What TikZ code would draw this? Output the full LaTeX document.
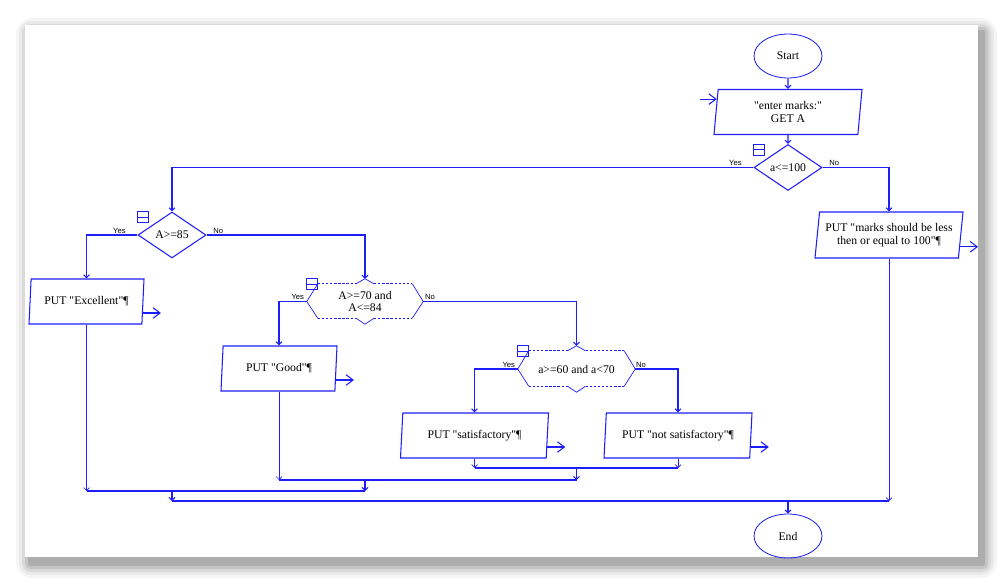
\documentclass[tikz,border=0pt]{standalone}
\usepackage{fontspec}
\setmainfont{Liberation Serif}[Ligatures=TeXOff]
\newfontfamily\yesnofont{Liberation Sans}
\usetikzlibrary{shapes.geometric, arrows.meta, calc}

\definecolor{flowblue}{RGB}{30,30,250}

\tikzset{
  flow/.style={draw=flowblue, line width=0.9pt},
  ret/.style={draw=flowblue, line width=0.6pt},
  outtip/.style={-{Straight Barb[length=6pt,width=9pt]}},
  term/.style={ellipse, draw=flowblue, line width=0.7pt, minimum width=68*0.03cm, minimum height=44*0.03cm, inner sep=0pt},
  io/.style={trapezium, trapezium left angle=80, trapezium right angle=100, trapezium stretches body,
    draw=flowblue, line width=0.9pt, minimum width=#1*0.03cm, minimum height=45*0.03cm, inner sep=1pt, align=center},
  dec/.style={diamond, draw=flowblue, line width=0.9pt, minimum width=68*0.03cm, minimum height=46*0.03cm, inner sep=0pt},
  hexdec/.style={rectangle, minimum width=116*0.03cm, minimum height=45*0.03cm, inner sep=0pt, align=center},
  lbl/.style={font=\yesnofont\fontsize{6.5}{7}\selectfont, inner sep=0.5pt}
}

\newcommand{\foldmark}[1]{%
  \draw[ret] (#1.west |- #1.north) rectangle ++(11,11);
  \draw[ret] (#1.west |- #1.north) ++(0,5.5) -- ++(11,0);}

\newcommand{\hexoutline}[1]{%
  \draw[ret] ($(#1.north west)+(11,5)$) -- (#1.west) -- ($(#1.south west)+(11,-6)$);
  \draw[ret] ($(#1.north east)+(-11,5)$) -- (#1.east) -- ($(#1.south east)+(-11,-6)$);
  \draw[ret, dash pattern=on 2pt off 1.5pt] ($(#1.north west)+(11,5)$) -- ($(#1.north)+(-9,5)$);
  \draw[ret, dash pattern=on 2pt off 1.5pt] ($(#1.north)+(9,5)$) -- ($(#1.north east)+(-11,5)$);
  \draw[ret, dash pattern=on 2pt off 1.5pt] ($(#1.south west)+(11,-6)$) -- ($(#1.south)+(-9,-6)$);
  \draw[ret, dash pattern=on 2pt off 1.5pt] ($(#1.south)+(9,-6)$) -- ($(#1.south east)+(-11,-6)$);
  \draw[ret] ($(#1.north)+(-9,5)$) -- (#1.north) -- ($(#1.north)+(9,5)$);
  \draw[ret] ($(#1.south)+(-9,-6)$) -- (#1.south) -- ($(#1.south)+(9,-6)$);}

\newcommand{\putarrow}[1]{%
  \draw[flow, outtip] ($(#1.bottom right corner)!0.25!(#1.top right corner)$) -- ++(18,0);}

\begin{document}
\begin{tikzpicture}[x=0.03cm, y=-0.03cm, >={Straight Barb[length=2.5pt,width=5pt]},
  every node/.append style={font=\fontsize{10}{11}\selectfont}]

\useasboundingbox (0,0) rectangle (1005,585);


\foreach \s/\o in {14/0.04, 11/0.05, 8/0.07, 5/0.09, 2/0.12} {
  \fill[black, opacity=\o, rounded corners=\s pt] (25-\s+5,25-\s+7) rectangle (978+\s+5,557+\s+7);
}
\fill[white] (25,25) rectangle (978,557);


\node[term] (start) at (788,56) {Start};
\node[io=148] (get) at (788,112) {"enter marks:"\\GET A};
\node[dec] (chk) at (788,167.5) {a<=100};
\node[dec] (exc) at (172,235) {A>=85};
\node[io=115] (pexc) at (86.5,301.5) {PUT "Excellent"¶};
\node[hexdec] (good) at (365,301.5) {A>=70 and\\A<=84};
\node[io=116] (pgood) at (279,368.5) {PUT "Good"¶};
\node[hexdec, minimum width=117*0.03cm, minimum height=46*0.03cm] (sat) at (576.5,369) {a>=60 and a<70};
\node[io=148] (psat) at (474.5,435.5) {PUT "satisfactory"¶};
\node[io=148] (pnot) at (678,435.5) {PUT "not satisfactory"¶};
\node[io=148, minimum height=46*0.03cm] (pmarks) at (889,235) {PUT "marks should be less\\then or equal to 100"¶};
\node[term] (end) at (788,536) {End};

\hexoutline{good}
\hexoutline{sat}

\foldmark{chk}
\foldmark{exc}
\foldmark{good}
\foldmark{sat}


\node[lbl, anchor=south east] (chky) at ($(chk.west)+(-11,-1)$) {Yes};
\node[lbl, anchor=south west] (chkn) at ($(chk.east)+(6,-1)$) {No};
\node[lbl, anchor=south east] (excy) at ($(exc.west)+(-11,-1)$) {Yes};
\node[lbl, anchor=south west] (excn) at ($(exc.east)+(6,-1)$) {No};
\node[lbl, anchor=south east] (goody) at ($(good.west)+(-2,-1)$) {Yes};
\node[lbl, anchor=south west] (goodn) at ($(good.east)+(1,-1)$) {No};
\node[lbl, anchor=south east] (saty) at ($(sat.west)+(-2,-1)$) {Yes};
\node[lbl, anchor=south west] (satn) at ($(sat.east)+(0,-1)$) {No};


\draw[flow,->] (start) -- (get);
\draw[flow,->] (get) -- (chk);
\draw[flow,->] (chk.west) -| (exc.north);
\draw[flow,->] (chk.east) -| (pmarks.north);
\draw[flow,->] (exc.west) -| (pexc.north);
\draw[flow,->] (exc.east) -| (good.north);
\draw[flow,->] (good.west) -| (pgood.north);
\draw[flow,->] (good.east) -| (sat.north);
\draw[flow,->] (sat.west) -| (psat.north);
\draw[flow,->] (sat.east) -| (pnot.north);

\draw[flow, outtip] ($(get.top left corner)!0.22!(get.bottom left corner)$) ++(-17,0) -- ++(17,0);
\putarrow{pexc}
\putarrow{pgood}
\putarrow{psat}
\putarrow{pnot}
\putarrow{pmarks}


\coordinate (j4) at (576.5,468);
\coordinate (j3) at (365,480);
\coordinate (j2) at (172,491);
\coordinate (j1) at (788,501);

\draw[ret,->] (psat.south) -- (psat.south |- j4);
\draw[ret,->] (pnot.south) -- (pnot.south |- j4);
\draw[flow] (psat.south |- j4) -- (pnot.south |- j4);
\draw[flow,->] (j4) -- (j4 |- j3);
\draw[ret,->] (pgood.south) -- (pgood.south |- j3);
\draw[flow] (pgood.south |- j3) -- (j4 |- j3);
\draw[flow,->] (j3) -- (j3 |- j2);
\draw[ret,->] (pexc.south) -- (pexc.south |- j2);
\draw[flow] (pexc.south |- j2) -- (j3 |- j2);
\draw[flow,->] (j2) -- (j2 |- j1);
\draw[ret,->] (pmarks.south) -- (pmarks.south |- j1);
\draw[flow] (j2 |- j1) -- (pmarks.south |- j1);
\draw[flow,->] (j1) -- (end);

\end{tikzpicture}
\end{document}
